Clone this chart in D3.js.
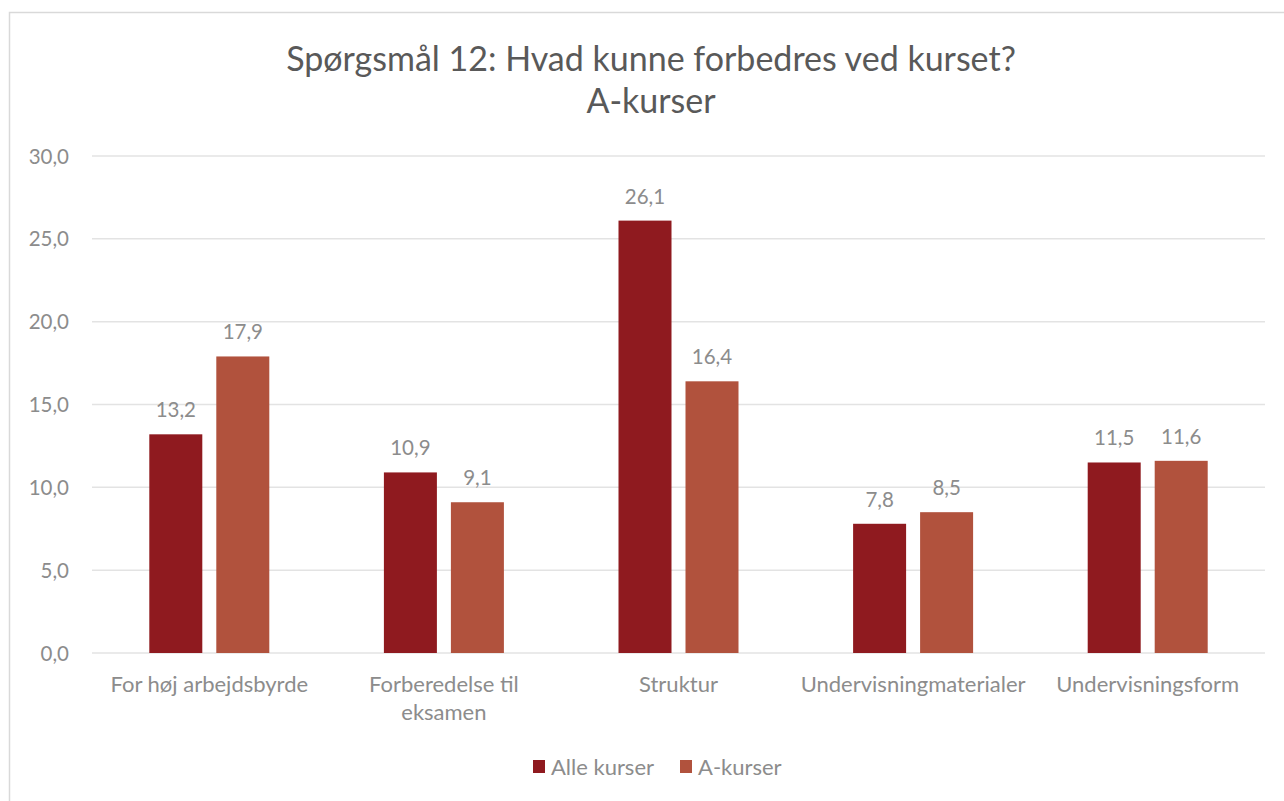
<!DOCTYPE html>
<html>
<head>
<meta charset="utf-8">
<script src="https://cdn.jsdelivr.net/npm/d3@7"></script>
<style>
html,body{margin:0;padding:0;background:#fff;}
svg{display:block;}
text{font-family:"Lato","Open Sans",sans-serif;}
</style>
</head>
<body>
<script>
const categories = [["For høj arbejdsbyrde"], ["Forberedelse til", "eksamen"], ["Struktur"], ["Undervisningmaterialer"], ["Undervisningsform"]];
const seriesNames = ["Alle kurser", "A-kurser"];
const alleKurser = [13.2, 10.9, 26.1, 7.8, 11.5];
const aKurser = [17.9, 9.1, 16.4, 8.5, 11.6];
const yTicks = [0, 5, 10, 15, 20, 25, 30];
const colors = ["#8f1a1f", "#b1523d"];

(function () {
const W = 1284, H = 801;
const svg = d3.select("body").append("svg").attr("width", W).attr("height", H);

// frame
svg.append("path").attr("d", `M9.5,${H+5} V12.5 H${W+5}`).attr("fill", "none").attr("stroke", "#d9d9d9").attr("stroke-width", 1.5);

const pl = 92, pr = 1265, pt = 156, pb = 653;
const fmt = v => d3.format(".1f")(v).replace(".", ",");
const txt = "#8c8c8c";

const x0 = d3.scaleBand().domain(d3.range(categories.length)).range([pl, pr]).paddingInner(0).paddingOuter(0);
const bw = 53, gap = 14;
const y = d3.scaleLinear().domain([0, 30]).range([pb, pt]);

// gridlines
svg.append("g").selectAll("line").data(yTicks).join("line")
  .attr("x1", pl).attr("x2", pr)
  .attr("y1", d => y(d)).attr("y2", d => y(d))
  .attr("stroke", "#e3e3e3").attr("stroke-width", 1.5);

// y tick labels
svg.append("g").selectAll("text").data(yTicks).join("text")
  .attr("x", 69).attr("y", d => y(d) + 7.5)
  .attr("text-anchor", "end").attr("font-size", 20.5).attr("fill", txt)
  .text(fmt);

const series = [alleKurser, aKurser];
series.forEach((vals, s) => {
  const g = svg.append("g");
  const bx = i => x0(i) + x0.bandwidth() / 2 + (s === 0 ? -gap / 2 - bw : gap / 2);
  g.selectAll("rect").data(vals).join("rect")
    .attr("x", (d, i) => bx(i)).attr("width", bw)
    .attr("y", d => y(d)).attr("height", d => y(0) - y(d))
    .attr("fill", colors[s]);
  g.selectAll("text").data(vals).join("text")
    .attr("x", (d, i) => bx(i) + bw / 2).attr("y", d => y(d) - 17)
    .attr("text-anchor", "middle").attr("font-size", 20.5).attr("fill", txt)
    .text(fmt);
});

// category labels
const cg = svg.append("g");
categories.forEach((lines, i) => {
  const cx = x0(i) + x0.bandwidth() / 2;
  const t = cg.append("text").attr("text-anchor", "middle").attr("font-size", 22).attr("fill", txt)
    .attr("x", cx).attr("y", 692);
  lines.forEach((l, j) => t.append("tspan").attr("x", cx).attr("dy", j === 0 ? 0 : 28).text(l));
});

// title
svg.append("text").attr("x", 651).attr("y", 71).attr("text-anchor", "middle").attr("font-size", 34).attr("fill", "#595959")
  .text("Spørgsmål 12: Hvad kunne forbedres ved kurset?");
svg.append("text").attr("x", 651).attr("y", 113).attr("text-anchor", "middle").attr("font-size", 34).attr("fill", "#595959")
  .text("A-kurser");

// legend
const legX = [533, 680];
seriesNames.forEach((n, s) => {
  svg.append("rect").attr("x", legX[s]).attr("y", 760).attr("width", 12).attr("height", 13).attr("fill", colors[s]);
  svg.append("text").attr("x", legX[s] + 18).attr("y", 775).attr("font-size", 22).attr("fill", txt).text(n);
});
})();
</script>
</body>
</html>
